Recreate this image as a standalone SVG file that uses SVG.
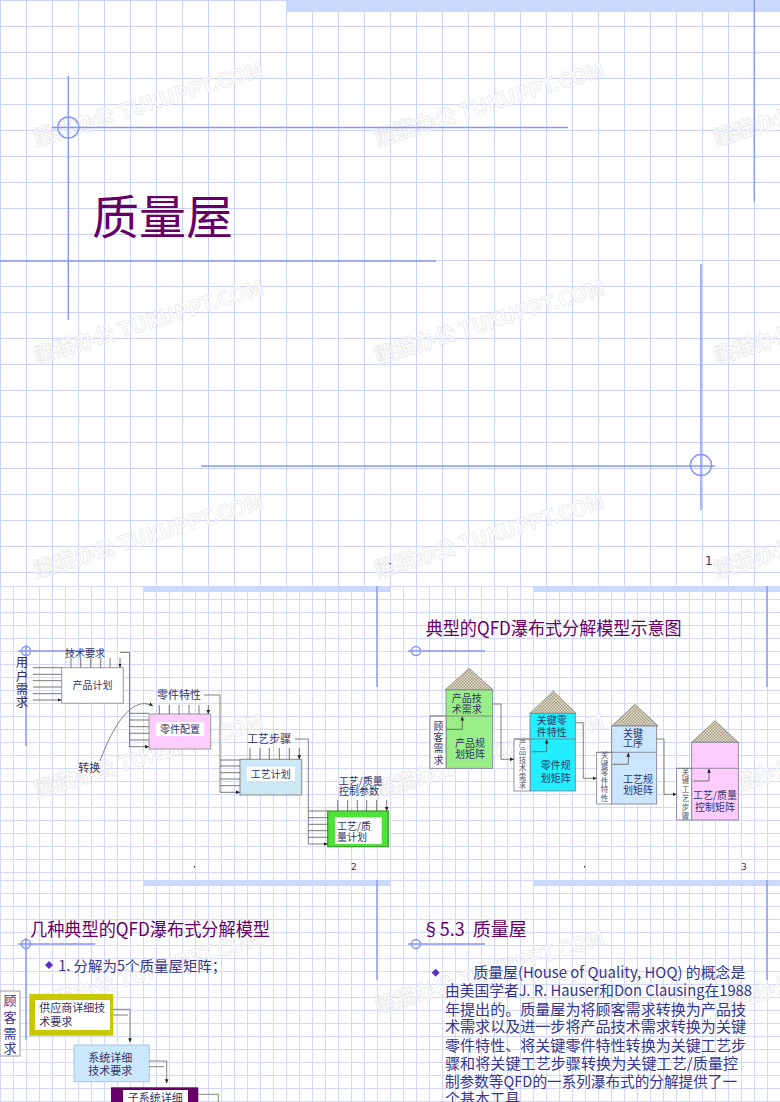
<svg xmlns="http://www.w3.org/2000/svg" width="780" height="1102" viewBox="0 0 780 1102">
<style>
.cj{font-family:"Noto Sans CJK SC","Noto Sans",sans-serif}
.lat{font-family:"DejaVu Sans","Noto Sans CJK SC",sans-serif}
.ttl{fill:#660066}
.dk{fill:#333366}
.nv{fill:#36368f}
.ln{stroke:#77776a;stroke-width:0.9;fill:none}
.ar{stroke:#55554a;stroke-width:0.8;fill:none;marker-end:url(#a)}
.deco{stroke:#8796f5;stroke-width:1.4;fill:none}
.band{fill:#ccd9ff}
.wm{font-family:"Noto Sans CJK SC",sans-serif;font-weight:bold;font-size:21px;fill:#ffffff;stroke:#e0e0e0;stroke-width:0.7;opacity:0.75}
.s10{font-size:10px}
.s11{font-size:11px}
.s8{font-size:7.5px}
.hb{stroke:#7a7a8a;stroke-width:0.8}
</style>
<defs>
<pattern id="g26" patternUnits="userSpaceOnUse" x="0" y="0" width="26" height="26"><path d="M0,0.5H26M0.5,0V26" stroke="#cbd2fb" stroke-width="1" fill="none"/></pattern>
<pattern id="g13a" patternUnits="userSpaceOnUse" x="0" y="586" width="13" height="13"><path d="M0,0.5H13M0.5,0V13" stroke="#d4d9fc" stroke-width="1" fill="none"/></pattern>
<pattern id="g13b" patternUnits="userSpaceOnUse" x="0" y="880" width="13" height="13"><path d="M0,0.5H13M0.5,0V13" stroke="#d4d9fc" stroke-width="1" fill="none"/></pattern>
<pattern id="roof" patternUnits="userSpaceOnUse" width="3" height="3"><rect width="3" height="3" fill="#e6e0c8"/><rect width="1.5" height="1.5" fill="#a09a86"/><rect x="1.5" y="1.5" width="1.5" height="1.5" fill="#a09a86"/></pattern>
<marker id="a" markerUnits="userSpaceOnUse" markerWidth="4" markerHeight="4" viewBox="0 0 10 10" refX="10" refY="5" orient="auto"><path d="M0,0.5L10,5L0,9.5z" fill="#222"/></marker>
</defs>

<g id="background">
<rect width="780" height="1102" fill="#ffffff"/>
<rect x="0" y="0" width="780" height="586" fill="url(#g26)"/>
<rect x="0" y="586" width="780" height="294" fill="url(#g13a)"/>
<rect x="0" y="880" width="780" height="222" fill="url(#g13b)"/>
</g>

<g id="watermarks">
<text class="wm" transform="translate(36,146) rotate(-17)">熊猫办公 TUKUPPT.COM</text>
<text class="wm" transform="translate(377,146) rotate(-17)">熊猫办公 TUKUPPT.COM</text>
<text class="wm" transform="translate(716,146) rotate(-17)">熊猫办公 TUKUPPT.COM</text>
<text class="wm" transform="translate(36,364) rotate(-17)">熊猫办公 TUKUPPT.COM</text>
<text class="wm" transform="translate(377,364) rotate(-17)">熊猫办公 TUKUPPT.COM</text>
<text class="wm" transform="translate(716,364) rotate(-17)">熊猫办公 TUKUPPT.COM</text>
<text class="wm" transform="translate(36,578) rotate(-17)">熊猫办公 TUKUPPT.COM</text>
<text class="wm" transform="translate(377,578) rotate(-17)">熊猫办公 TUKUPPT.COM</text>
<text class="wm" transform="translate(716,578) rotate(-17)">熊猫办公 TUKUPPT.COM</text>
<text class="wm" transform="translate(36,798) rotate(-17)">熊猫办公 TUKUPPT.COM</text>
<text class="wm" transform="translate(377,798) rotate(-17)">熊猫办公 TUKUPPT.COM</text>
<text class="wm" transform="translate(716,798) rotate(-17)">熊猫办公 TUKUPPT.COM</text>
<text class="wm" transform="translate(36,1014) rotate(-17)">熊猫办公 TUKUPPT.COM</text>
<text class="wm" transform="translate(377,1014) rotate(-17)">熊猫办公 TUKUPPT.COM</text>
<text class="wm" transform="translate(716,1014) rotate(-17)">熊猫办公 TUKUPPT.COM</text>
</g>

<g id="slide1">
<rect class="band" x="286" y="0" width="494" height="12"/>
<path class="deco" d="M68.3,76V320M52,127.5H568M0,261H436M754.3,0V202M701,264V510M201,466H715"/>
<circle class="deco" cx="68.3" cy="127.5" r="10.5"/>
<circle class="deco" cx="701" cy="465" r="10.5"/>
<text class="cj ttl" x="92" y="234" font-size="47">质量屋</text>
<text class="lat dk" x="705" y="565" font-size="12">1</text>
<rect x="389.5" y="563" width="1.2" height="1.5" fill="#333"/>
</g>

<g id="slide-bands">
<rect class="band" x="143" y="586" width="247" height="6"/>
<rect class="band" x="533" y="586" width="247" height="6"/>
<rect class="band" x="143" y="880" width="247" height="6"/>
<rect class="band" x="533" y="880" width="247" height="6"/>
<path class="deco" stroke-width="1" d="M377,586V687M767,586V687M377,880V980M767,880V980M18,651H95M408,651H485M18,944H95M408,944H485M26,645V746M26,938V1040"/>
<circle class="deco" stroke-width="1" cx="26" cy="651" r="4.5"/>
<circle class="deco" stroke-width="1" cx="416" cy="651" r="4.5"/>
<circle class="deco" stroke-width="1" cx="26" cy="944" r="4.5"/>
<circle class="deco" stroke-width="1" cx="416" cy="944" r="4.5"/>
</g>

<g id="slide2">
<text class="cj dk" font-size="12.5" text-anchor="middle"><tspan x="22" y="667">用</tspan><tspan x="22" y="681">户</tspan><tspan x="22" y="694">需</tspan><tspan x="22" y="707">求</tspan></text>
<text class="lat dk" x="351" y="870" font-size="9">2</text>
<rect x="194" y="866" width="1.2" height="1.5" fill="#333"/>
</g>

<g id="node-product-plan">
<rect x="61.7" y="667.7" width="61.6" height="35.6" fill="#ffffff" stroke="#9a9a9a" stroke-width="1"/>
<text class="cj dk s10" x="92.5" y="689" text-anchor="middle">产品计划</text>
<text class="cj dk s10" x="85" y="656.5" text-anchor="middle">技术要求</text>
</g>
<g id="node-part-config">
<rect x="149" y="714" width="61.7" height="35" fill="#ffccff" stroke="#9a9a9a" stroke-width="1"/>
<rect x="156" y="722.3" width="48" height="13.7" fill="#ffffff"/>
<text class="cj dk s10" x="180" y="732.6" text-anchor="middle">零件配置</text>
<text class="cj dk s11" x="179" y="699.3" text-anchor="middle">零件特性</text>
</g>
<g id="node-process-plan">
<rect x="240" y="759.3" width="61.7" height="35.7" fill="#cce8f5" stroke="#8a8a8a" stroke-width="1"/>
<rect x="246.7" y="766.7" width="48.3" height="14.3" fill="#ffffff"/>
<text class="cj dk s10" x="270.8" y="777.6" text-anchor="middle">工艺计划</text>
<text class="cj dk s11" x="269" y="743" text-anchor="middle">工艺步骤</text>
</g>
<g id="node-quality-plan">
<rect x="327.7" y="811" width="60.6" height="35.7" fill="#4fe23a" stroke="#3a9a2a" stroke-width="1.2"/>
<rect x="335" y="817.3" width="46.7" height="26.7" fill="#ffffff"/>
<text class="cj dk s10" x="337" y="830.3">工艺/质</text>
<text class="cj dk s10" x="337" y="841.3">量计划</text>
<text class="cj dk s10" x="360.7" y="784.6" text-anchor="middle">工艺/质量</text>
<text class="cj dk s10" x="359" y="795.3" text-anchor="middle">控制参数</text>
</g>
<g id="label-convert">
<text class="cj dk s11" x="89.3" y="771.5" text-anchor="middle">转换</text>
</g>

<g id="connectors-slide2">
<path class="ln" d="M120,652.5H129.5V747M204,695H220V792.3M295,739H308.3V844"/>
<path class="ln" d="M100,761C112,728 132,694 153,706" marker-end="url(#a)"/>
<path class="ar" d="M33,667.7H61.5M33,674.3H61.5M33,680.7H61.5M33,687H61.5M33,693.7H61.5M33,700H61.5"/>
<path class="ar" d="M71,658V667.5M80.7,658V667.5M90.7,658V667.5M100.7,658V667.5M110,658V667.5M120,658V667.5"/>
<path class="ar" d="M129.5,713.3H149M129.5,720H149M129.5,726.7H149M129.5,733.3H149M129.5,740H149M129.5,746.7H149"/>
<path class="ar" d="M159.3,705V714M169.3,705V714M179,705V714M189,705V714M199,705V714M208.3,705V714"/>
<path class="ar" d="M220,760H240M220,766H240M220,772.7H240M220,779H240M220,785.7H240M220,792.3H240"/>
<path class="ar" d="M250,748V759.3M260,748V759.3M269.3,748V759.3M279.3,748V759.3M289.3,748V759.3M299.3,748V759.3"/>
<path class="ar" d="M308.3,811H327.7M308.3,817.7H327.7M308.3,824.3H327.7M308.3,830.7H327.7M308.3,837.3H327.7M308.3,844H327.7"/>
<path class="ar" d="M337.7,800V811M347.7,800V811M357.3,800V811M366.7,800V811M376.7,800V811M386.7,800V811"/>
</g>

<g id="slide3">
<text class="cj ttl" x="425.7" y="634.5" font-size="18" textLength="256" lengthAdjust="spacingAndGlyphs">典型的QFD瀑布式分解模型示意图</text>
<text class="lat dk" x="741" y="870" font-size="9">3</text>
<rect x="584" y="866" width="1.2" height="1.5" fill="#333"/>
</g>

<g id="house1">
<polygon points="445,690 469,668.3 493.3,690" fill="url(#roof)" stroke="#8a8a80" stroke-width="0.8"/>
<rect x="446" y="690" width="46.7" height="78.3" fill="#99ee88" class="hb"/>
<rect x="430" y="716" width="16" height="52.3" fill="#ffffff" class="hb"/>
<path class="hb" d="M430,716H492.7"/>
<path class="ar" d="M446,729.3H462.3V716.5"/>
<text class="cj dk s10" text-anchor="middle"><tspan x="466.7" y="701.8">产品技</tspan><tspan x="466.7" y="712.8">术需求</tspan><tspan x="470" y="746.8">产品规</tspan><tspan x="470" y="757.6">划矩阵</tspan></text>
<text class="cj dk s10" text-anchor="middle"><tspan x="438.5" y="730">顾</tspan><tspan x="438.5" y="741">客</tspan><tspan x="438.5" y="752">需</tspan><tspan x="438.5" y="764">求</tspan></text>
</g>

<g id="house2">
<polygon points="530,713.3 553.3,691 576,713.3" fill="url(#roof)" stroke="#8a8a80" stroke-width="0.8"/>
<rect x="530" y="713.3" width="45.3" height="77.7" fill="#22eeff" class="hb"/>
<rect x="514" y="739" width="16" height="52" fill="#ffffff" class="hb"/>
<path class="hb" d="M514,739H575.3"/>
<path class="ar" d="M531.7,751.7H546.7V739.5"/>
<text class="cj dk s10" text-anchor="middle"><tspan x="551.7" y="724.2">关键零</tspan><tspan x="551.7" y="736.2">件特性</tspan><tspan x="555.7" y="768.5">零件规</tspan><tspan x="555.7" y="781.8">划矩阵</tspan></text>
<text class="cj s8" fill="#555566" text-anchor="middle"><tspan x="522.5" y="745.5">产</tspan><tspan x="522.5" y="754">品</tspan><tspan x="522.5" y="762.5">技</tspan><tspan x="522.5" y="771">术</tspan><tspan x="522.5" y="779.5">需</tspan><tspan x="522.5" y="788">求</tspan></text>
</g>

<g id="house3">
<polygon points="611.7,726 635,704.3 658.3,726" fill="url(#roof)" stroke="#8a8a80" stroke-width="0.8"/>
<rect x="611.7" y="726" width="45" height="78" fill="#cce6ff" class="hb"/>
<rect x="596.7" y="752.3" width="15" height="51.7" fill="#ffffff" class="hb"/>
<path class="hb" d="M596.7,752.3H656.7"/>
<path class="ar" d="M612.7,764.3H628.3V752.8"/>
<text class="cj dk s10" text-anchor="middle"><tspan x="633" y="736.8">关键</tspan><tspan x="633" y="747.3">工序</tspan><tspan x="638" y="783.2">工艺规</tspan><tspan x="638" y="794">划矩阵</tspan></text>
<text class="cj s8" fill="#555566" text-anchor="middle"><tspan x="604.5" y="758">关</tspan><tspan x="604.5" y="766.5">键</tspan><tspan x="604.5" y="775">零</tspan><tspan x="604.5" y="783.5">件</tspan><tspan x="604.5" y="792">特</tspan><tspan x="604.5" y="800.8">性</tspan></text>
</g>

<g id="house4">
<polygon points="691.7,742.3 715,720.7 738.3,742.3" fill="url(#roof)" stroke="#8a8a80" stroke-width="0.8"/>
<rect x="691.7" y="742.3" width="46.6" height="77.7" fill="#ffccff" class="hb"/>
<rect x="676.7" y="768.3" width="15" height="51.7" fill="#ffffff" class="hb"/>
<path class="hb" d="M676.7,768.3H738.3"/>
<path class="ar" d="M693.3,781H709V768.8"/>
<text class="cj dk s10" text-anchor="middle"><tspan x="715" y="798.5">工艺/质量</tspan><tspan x="715" y="810.5">控制矩阵</tspan></text>
<text class="cj s8" fill="#555566" text-anchor="middle"><tspan x="685.5" y="774.5">关</tspan><tspan x="685.5" y="783">键</tspan><tspan x="685.5" y="792">工</tspan><tspan x="685.5" y="800.5">艺</tspan><tspan x="685.5" y="810">步</tspan><tspan x="685.5" y="819">骤</tspan></text>
</g>

<g id="connectors-slide3">
<path class="ln" d="M493.3,704H501V759.3H514" marker-end="url(#a)"/>
<path class="ln" d="M575.3,722.7H583.3V778.3H596.7" marker-end="url(#a)"/>
<path class="ln" d="M656.7,739H664V794.3H676.7" marker-end="url(#a)"/>
</g>

<g id="slide4">
<text class="cj ttl" x="30" y="936" font-size="18" textLength="240" lengthAdjust="spacingAndGlyphs">几种典型的QFD瀑布式分解模型</text>
<polygon points="49,961 53,965 49,969 45,965" fill="#5533bb"/>
<text class="cj nv" x="58.3" y="971" font-size="14" textLength="168" lengthAdjust="spacingAndGlyphs">1. 分解为5个质量屋矩阵；</text>
</g>
<g id="node-customer">
<rect x="0" y="991" width="20" height="65" fill="#ffffff" stroke="#999" stroke-width="1"/>
<text class="cj nv" font-size="13" text-anchor="middle"><tspan x="10" y="1005">顾</tspan><tspan x="10" y="1021.5">客</tspan><tspan x="10" y="1038">需</tspan><tspan x="10" y="1053">求</tspan></text>
</g>
<g id="node-supplier">
<rect x="29.3" y="994" width="84" height="41.7" fill="#c8c800"/>
<rect x="35" y="1000" width="75" height="30" fill="#ffffff"/>
<text class="cj dk s11" x="39.3" y="1012.2">供应商详细技</text>
<text class="cj dk s11" x="39.3" y="1025.5">术要求</text>
</g>
<g id="node-system">
<rect x="74" y="1045" width="75.3" height="36.7" fill="#cce8ff" stroke="#a8c8e8" stroke-width="1"/>
<text class="cj dk s11" x="88.3" y="1061.5">系统详细</text>
<text class="cj dk s11" x="88.3" y="1074.5">技术要求</text>
</g>
<g id="node-subsystem">
<rect x="111" y="1087.3" width="87.3" height="20" fill="#660066"/>
<rect x="123" y="1090" width="65" height="15" fill="#ffffff"/>
<text class="cj dk s11" x="127.7" y="1102">子系统详细</text>
</g>
<g id="connectors-slide4">
<path class="ln" stroke="#8888aa" d="M113.3,1009.3H130V1042.3" marker-end="url(#a)"/>
<path class="ln" stroke="#8888aa" d="M113.3,1015H128"/>
<path class="ln" stroke="#8888aa" d="M149.3,1061H166.7V1083.3" marker-end="url(#a)"/>
<path class="ln" stroke="#8888aa" d="M149.3,1066.7H164"/>
<path class="ln" stroke="#8888aa" d="M198.3,1094.3H218.3V1102"/>
</g>

<g id="slide5">
<text class="cj ttl" x="421.7" y="936" font-size="18" xml:space="preserve">§5.3  质量屋</text>
<polygon points="435.7,968.7 439.7,972.7 435.7,976.7 431.7,972.7" fill="#5533bb"/>
<g class="cj nv" font-size="15">
<text x="473.3" y="978.2" textLength="272" lengthAdjust="spacingAndGlyphs">质量屋(House of Quality, HOQ) 的概念是</text>
<text x="445" y="996.4" textLength="307" lengthAdjust="spacingAndGlyphs">由美国学者J. R. Hauser和Don Clausing在1988</text>
<text x="445" y="1014.7" textLength="301" lengthAdjust="spacingAndGlyphs">年提出的。质量屋为将顾客需求转换为产品技</text>
<text x="445" y="1032.2" textLength="301" lengthAdjust="spacingAndGlyphs">术需求以及进一步将产品技术需求转换为关键</text>
<text x="445" y="1050.5" textLength="301" lengthAdjust="spacingAndGlyphs">零件特性、将关键零件特性转换为关键工艺步</text>
<text x="445" y="1068.8" textLength="293" lengthAdjust="spacingAndGlyphs">骤和将关键工艺步骤转换为关键工艺/质量控</text>
<text x="445" y="1087.2" textLength="292" lengthAdjust="spacingAndGlyphs">制参数等QFD的一系列瀑布式的分解提供了一</text>
<text x="445" y="1103.5">个基本工具</text>
</g>
</g>
</svg>
